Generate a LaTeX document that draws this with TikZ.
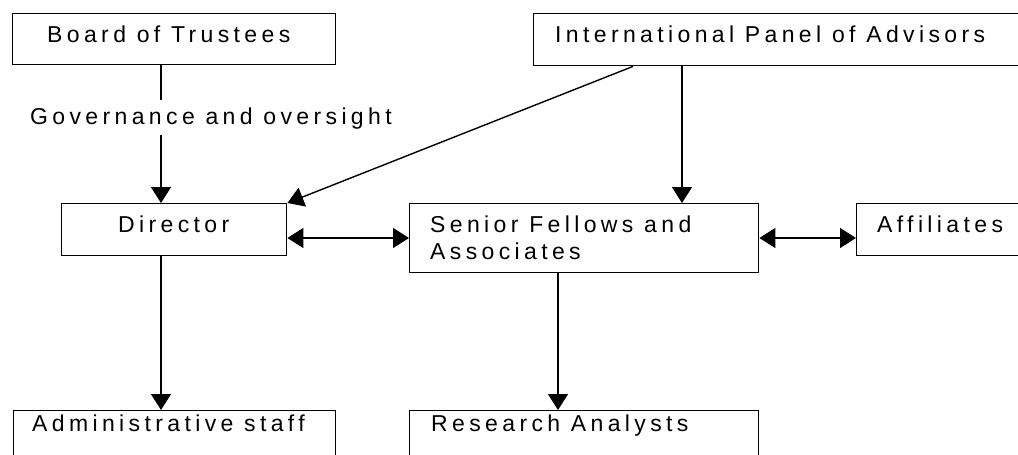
\documentclass[tikz,border=0pt]{standalone}
\usepackage{fontspec}
\setmainfont[LetterSpace=19]{Liberation Sans}
\usetikzlibrary{arrows.meta}
\tikzset{
  box/.style={draw, line width=1.4pt, inner sep=0pt, anchor=north west},
  lbl/.style={inner sep=0pt, anchor=base west, font=\fontsize{23}{28}\selectfont},
  conn/.style={line width=1.4pt, -{Triangle[length=16pt,width=20pt]}},
  plain/.style={line width=1.4pt},
  dbl/.style={line width=1.4pt, {Triangle[length=16pt,width=20pt]}-{Triangle[length=16pt,width=20pt]}}
}
\begin{document}
\begin{tikzpicture}[x=1pt,y=-1pt]
\useasboundingbox (0,0) rectangle (1018,455);
% boxes
\node[box, minimum width=323pt, minimum height=51pt] (bot) at (12,13) {};
\node[box, minimum width=500pt, minimum height=52pt] (ipa) at (533,13) {};
\node[box, minimum width=225pt, minimum height=52pt] (dir) at (61,203) {};
\node[box, minimum width=349pt, minimum height=69pt] (sfa) at (409,203) {};
\node[box, minimum width=180pt, minimum height=52pt] (aff) at (856,203) {};
\node[box, minimum width=322pt, minimum height=60pt] (adm) at (13,410) {};
\node[box, minimum width=349pt, minimum height=60pt] (ra) at (409,410) {};
% labels
\node[lbl] (tbot) at (47,42) {Board of Trustees};
\node[lbl] (tipa) at (555,42) {International Panel of Advisors};
\node[lbl] (gov) at (30,124) {Governance and oversight};
\node[lbl] (tdir) at (118,232) {Director};
\node[lbl] (tsfa) at (430,232) {Senior Fellows and};
\node[lbl] (tsfa2) at (430,259) {Associates};
\node[lbl] (taff) at (877,232) {Affiliates};
\node[lbl] (tadm) at (32,431) {Administrative staff};
\node[lbl] (tra) at (431,431) {Research Analysts};
% connectors
\coordinate (g1) at (161,100);
\coordinate (g2) at (161,135);
\draw[plain] (bot.south -| g1) -- (g1);
\draw[conn] (g2) -- (dir.north -| g2);
\draw[conn] (ipa.south -| 633,0) -- (dir.north east);
\draw[conn] (ipa.south -| 682,0) -- (sfa.north -| 682,0);
\draw[dbl] (dir.east |- 0,238) -- (sfa.west |- 0,238);
\draw[dbl] (sfa.east |- 0,238) -- (aff.west |- 0,238);
\draw[conn] (dir.south -| 161,0) -- (adm.north -| 161,0);
\draw[conn] (sfa.south -| 558,0) -- (ra.north -| 558,0);
\end{tikzpicture}
\end{document}
